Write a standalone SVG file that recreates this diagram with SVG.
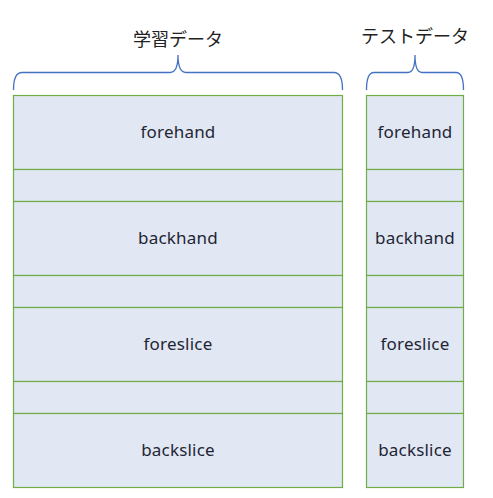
<svg xmlns="http://www.w3.org/2000/svg" width="493" height="498" viewBox="0 0 493 498">
<style>
.cell{fill:#E1E7F3;stroke:#70AD47;stroke-width:1.2}
.lbl{font-family:"Noto Sans","Liberation Sans",sans-serif;font-size:17px;fill:#1F2533;text-anchor:middle;dominant-baseline:central;letter-spacing:0.2px}
.ttl{font-family:"Noto Sans CJK JP","Noto Sans",sans-serif;font-size:18px;fill:#222;text-anchor:middle}
.brace{fill:none;stroke:#4472C4;stroke-width:1.3}
</style>
<rect width="493" height="498" fill="#fff"/>
<g id="train">
<rect class="cell" x="13.5" y="95.5" width="329" height="74"/>
<rect class="cell" x="13.5" y="169.5" width="329" height="32"/>
<rect class="cell" x="13.5" y="201.5" width="329" height="74"/>
<rect class="cell" x="13.5" y="275.5" width="329" height="32"/>
<rect class="cell" x="13.5" y="307.5" width="329" height="74"/>
<rect class="cell" x="13.5" y="381.5" width="329" height="32"/>
<rect class="cell" x="13.5" y="413.5" width="329" height="74"/>
<text class="lbl" x="178" y="131">forehand</text>
<text class="lbl" x="178" y="237">backhand</text>
<text class="lbl" x="178" y="343">foreslice</text>
<text class="lbl" x="178" y="449">backslice</text>
</g>
<g id="test">
<rect class="cell" x="366.5" y="95.5" width="97" height="74"/>
<rect class="cell" x="366.5" y="169.5" width="97" height="32"/>
<rect class="cell" x="366.5" y="201.5" width="97" height="74"/>
<rect class="cell" x="366.5" y="275.5" width="97" height="32"/>
<rect class="cell" x="366.5" y="307.5" width="97" height="74"/>
<rect class="cell" x="366.5" y="381.5" width="97" height="32"/>
<rect class="cell" x="366.5" y="413.5" width="97" height="74"/>
<text class="lbl" x="415" y="131">forehand</text>
<text class="lbl" x="415" y="237">backhand</text>
<text class="lbl" x="415" y="343">foreslice</text>
<text class="lbl" x="415" y="449">backslice</text>
</g>
<g id="braces">
<path class="brace" d="M13.5,90 Q13.5,72.5 22,72.5 H170 Q178,72.5 178,55 Q178,72.5 186,72.5 H334 Q342.5,72.5 342.5,90"/>
<path class="brace" d="M366.5,90 Q366.5,72.5 374,72.5 H408 Q415,72.5 415,55 Q415,72.5 422,72.5 H456 Q463.5,72.5 463.5,90"/>
</g>
<text class="ttl" x="178" y="46">学習データ</text>
<text class="ttl" x="415" y="43">テストデータ</text>
</svg>
